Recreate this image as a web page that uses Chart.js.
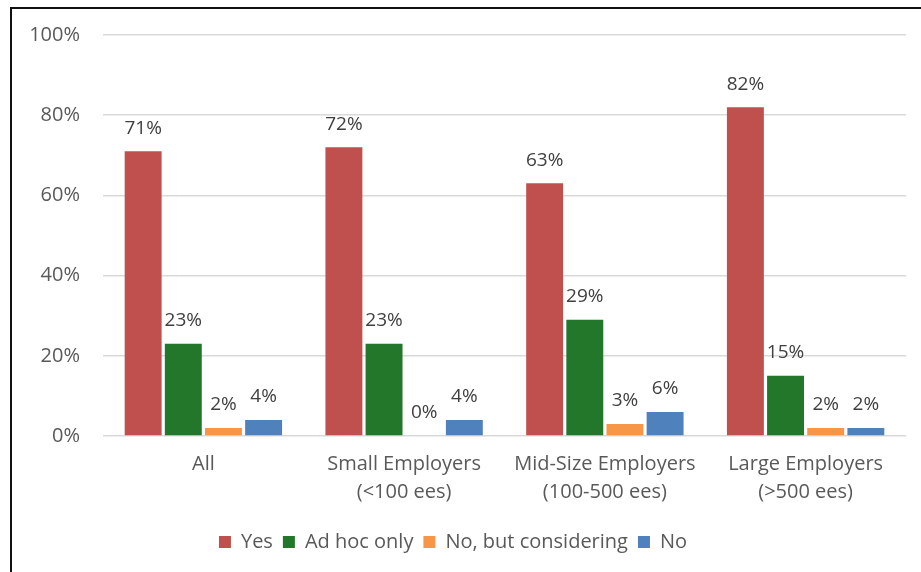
<!DOCTYPE html>
<html>
<head>
<meta charset="utf-8">
<script src="https://cdn.jsdelivr.net/npm/chart.js@4.4.1/dist/chart.umd.min.js"></script>
<style>
  html, body { margin: 0; padding: 0; background: #ffffff; }
  #wrap { position: relative; width: 921px; height: 572px; overflow: hidden; }
  #frame { position: absolute; left: 10px; top: 7px; right: -4px; bottom: -4px;
           border-left: 2px solid #111; border-top: 2px solid #111; pointer-events: none; }
  canvas { position: absolute; left: 0; top: 0; }
</style>
</head>
<body>
<div id="wrap">
  <canvas id="chart" width="921" height="572"></canvas>
  <div id="frame"></div>
</div>
<script>
// Employer groups shown along the x axis
const categories = [
  ["All"],
  ["Small Employers", "(<100 ees)"],
  ["Mid-Size Employers", "(100-500 ees)"],
  ["Large Employers", "(>500 ees)"]
];

// Share of employers per answer, in percent
const yesValues         = [71, 72, 63, 82];
const adHocValues       = [23, 23, 29, 15];
const consideringValues = [2, 0, 3, 2];
const noValues          = [4, 4, 6, 2];

const seriesNames = ["Yes", "Ad hoc only", "No, but considering", "No"];
const seriesColors = ["#C0504D", "#23772A", "#F79646", "#4F81BD"];

const yTicks = [0, 20, 40, 60, 80, 100];

const FONT = "'Open Sans', 'DejaVu Sans', sans-serif";
const TEXT = "#595959";

// Writes each bar's percentage just above it
const valueLabels = {
  id: "valueLabels",
  afterDatasetsDraw(chart) {
    const ctx = chart.ctx;
    ctx.save();
    ctx.font = "19px " + FONT;
    ctx.fillStyle = "#404040";
    ctx.textAlign = "center";
    ctx.textBaseline = "middle";
    chart.data.datasets.forEach((ds, i) => {
      chart.getDatasetMeta(i).data.forEach((bar, j) => {
        ctx.fillText(ds.data[j] + "%", bar.x, bar.y - 23);
      });
    });
    ctx.restore();
  }
};

const allSeries = [yesValues, adHocValues, consideringValues, noValues];

new Chart(document.getElementById("chart"), {
  type: "bar",
  data: {
    labels: categories,
    datasets: allSeries.map((vals, i) => ({
      label: seriesNames[i],
      data: vals,
      backgroundColor: seriesColors[i],
      borderWidth: 0,
      barPercentage: 0.92,
      categoryPercentage: 0.8
    }))
  },
  options: {
    responsive: false,
    animation: false,
    layout: { padding: { left: 0, right: 15, top: 35, bottom: 10 } },
    plugins: {
      tooltip: { enabled: false },
      legend: {
        position: "bottom",
        labels: {
          boxWidth: 12,
          boxHeight: 12,
          padding: 10,
          color: TEXT,
          font: { family: FONT, size: 20 }
        }
      }
    },
    scales: {
      x: {
        grid: { display: false, drawTicks: false },
        border: { display: false },
        ticks: {
          color: TEXT,
          font: { family: FONT, size: 20, lineHeight: 1.4 },
          padding: 14,
          maxRotation: 0,
          autoSkip: false
        },
        afterFit(scale) { scale.height = 86; }
      },
      y: {
        min: 0,
        max: 100,
        afterBuildTicks(scale) { scale.ticks = yTicks.map(v => ({ value: v })); },
        grid: { color: "#D9D9D9", lineWidth: 1.5, drawTicks: false },
        border: { display: false },
        ticks: {
          color: TEXT,
          font: { family: FONT, size: 20 },
          padding: 23,
          callback: v => v + "%"
        },
        afterFit(scale) { scale.width = 103; }
      }
    }
  },
  plugins: [valueLabels]
});
</script>
</body>
</html>
